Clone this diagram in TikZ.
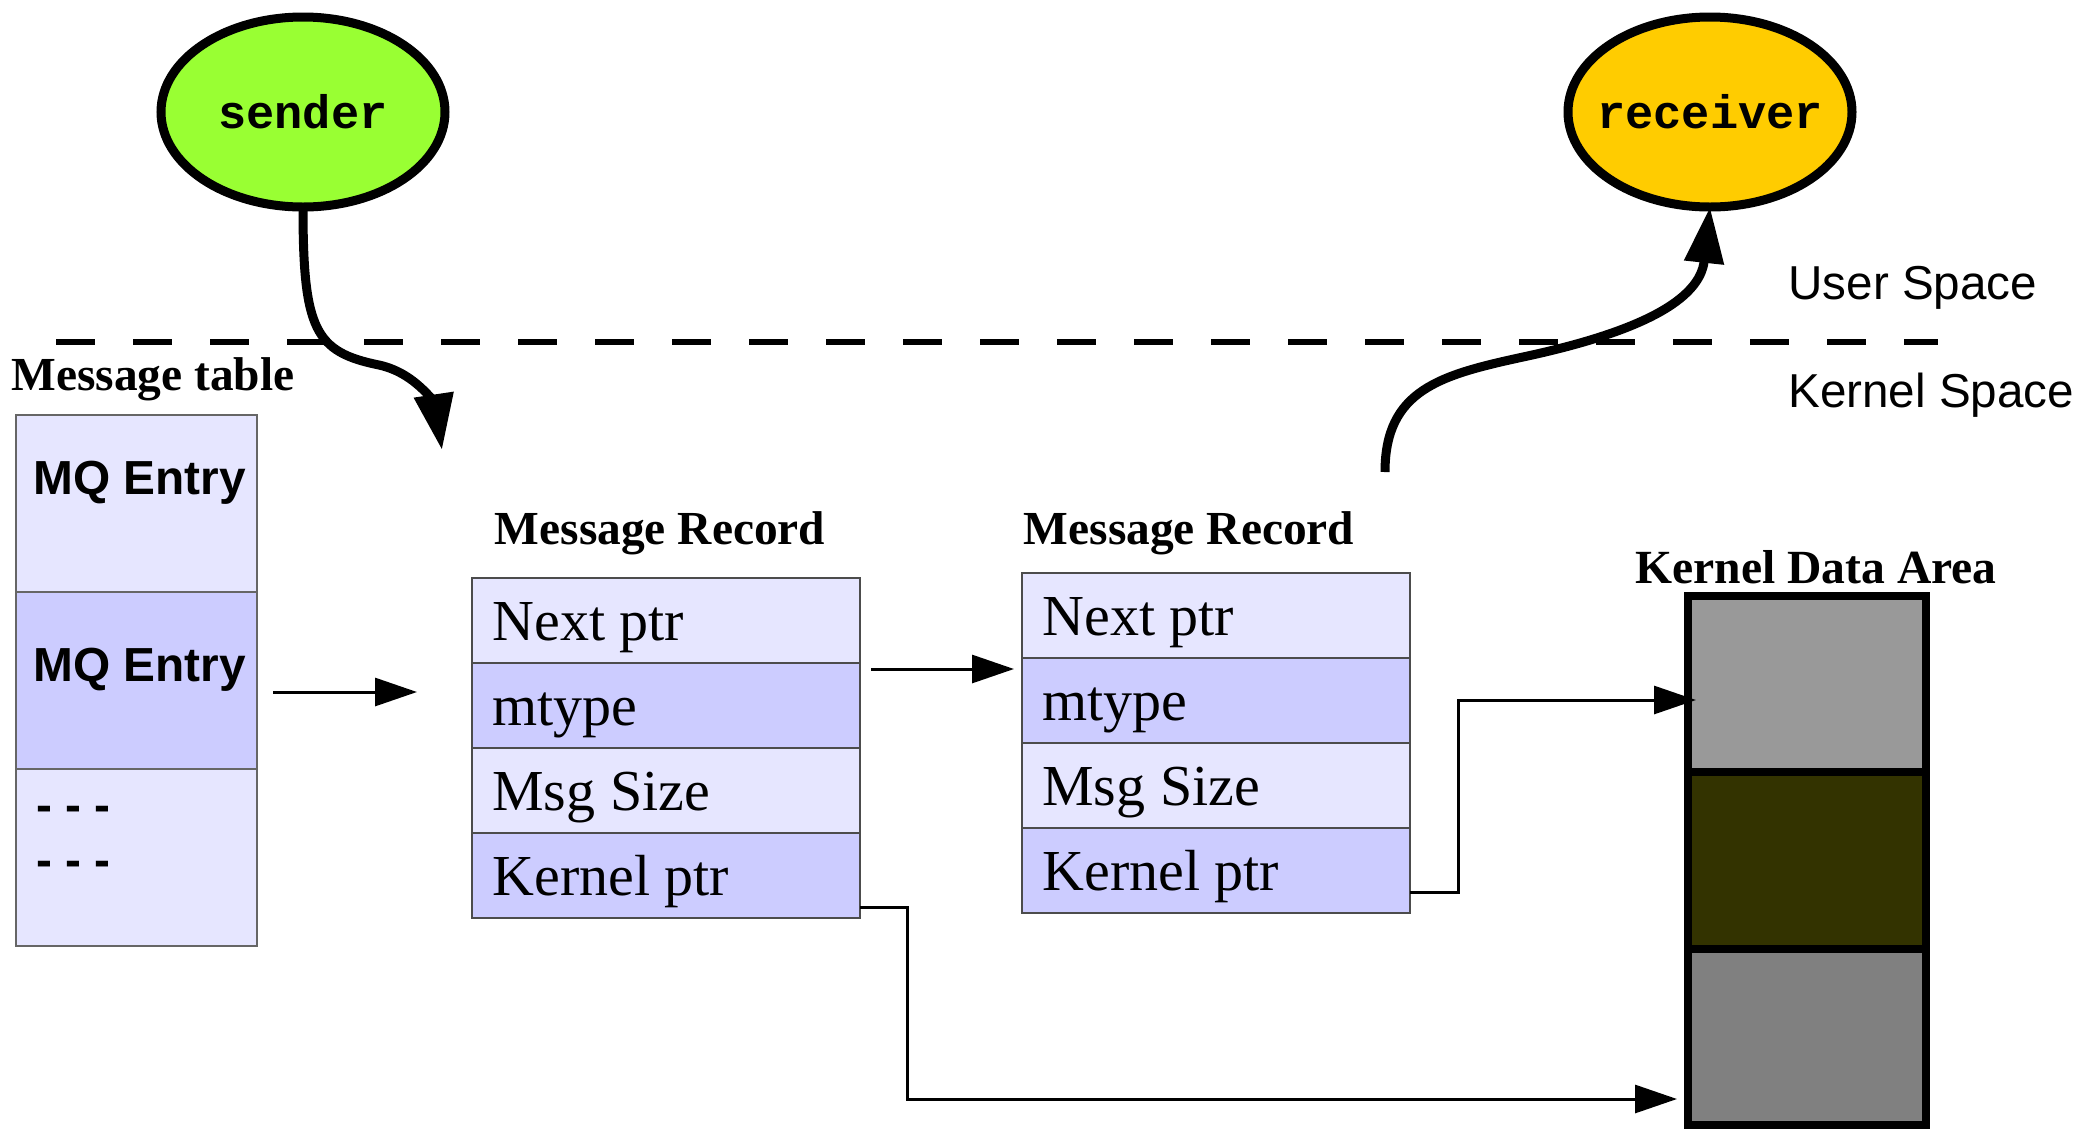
\documentclass[tikz,border=0pt]{standalone}
\usepackage{fontspec}
\setmainfont{Liberation Serif}
\setsansfont{Liberation Sans}
\setmonofont{Liberation Mono}
\usetikzlibrary{arrows.meta,calc,shapes.geometric}
\definecolor{sendgreen}{HTML}{99FF33}
\definecolor{recvyellow}{HTML}{FFCC00}
\definecolor{lavlight}{HTML}{E6E6FF}
\definecolor{lavdark}{HTML}{CCCCFF}
\definecolor{kgrayA}{HTML}{999999}
\definecolor{kolive}{HTML}{333300}
\definecolor{kgrayB}{HTML}{808080}
\begin{document}
\begin{tikzpicture}[x=0.5pt,y=-0.5pt,
  proc/.style={ellipse, draw=black, line width=4.5pt, minimum width=142pt, minimum height=95pt, inner sep=0pt, outer sep=0pt},
  proctext/.style={font=\ttfamily\bfseries\fontsize{23.5}{28}\selectfont, inner sep=0pt},
  title/.style={font=\bfseries\fontsize{23.7}{28}\selectfont, inner sep=0pt},
  spacelabel/.style={font=\sffamily\fontsize{23.8}{28}\selectfont, inner sep=0pt, anchor=west},
  mqcell/.style={draw=black!60, line width=0.6pt, minimum width=120.5pt, minimum height=88.5pt, anchor=north west, inner sep=0pt, outer sep=0pt},
  mqtext/.style={font=\sffamily\bfseries\fontsize{23.9}{28}\selectfont, inner sep=0pt, anchor=base west},
  recrow/.style={draw=black!70, line width=0.6pt, minimum width=194pt, minimum height=42.5pt,
    inner sep=0pt, outer sep=0pt, anchor=north west},
  rowtext/.style={font=\fontsize{29}{34}\selectfont, inner sep=0pt, anchor=base west},
  kcell/.style={draw=black, line width=4pt, minimum width=119pt, minimum height=88.2pt, anchor=north west, inner sep=0pt, outer sep=0pt},
  thinarrow/.style={line width=1.5pt, -{Triangle[length=21pt,width=14pt]}},
  thickarrow/.style={line width=4.5pt, -{Triangle[length=28pt,width=19pt]}},
  boundary/.style={line width=3.4pt, dash pattern=on 19.25pt off 19.25pt}
]
\useasboundingbox (0,0) rectangle (2078,1136);

% user / kernel boundary
\draw[boundary] (56,342) -- (1938,342);
\node[spacelabel] (userspace) at (1788,288) {User Space};
\node[spacelabel] (kernelspace) at (1788,395) {Kernel Space};

% processes
\node[proc, fill=sendgreen] (sender) at (303,112) {};
\node[proctext] (sendertext) at (sender.center) {sender};
\node[proc, fill=recvyellow] (receiver) at (1710,112) {};
\node[proctext] (receivertext) at (receiver.center) {receiver};

% message table
\node[title] (mqtitle) at (153,379) {Message table};
\node[mqcell, fill=lavlight] (mq1) at (16,415) {};
\node[mqcell, fill=lavdark] (mq2) at (16,592) {};
\node[mqcell, fill=lavlight] (mq3) at (16,769) {};
\node[mqtext] (mq1t) at ($(mq1.north west)+(17,79)$) {MQ Entry};
\node[mqtext] (mq2t) at ($(mq2.north west)+(17,89)$) {MQ Entry};
\node[mqtext] (mq3a) at ($(mq3.north west)+(20,52)$) {- - -};
\node[mqtext] (mq3b) at ($(mq3.north west)+(20,107)$) {- - -};

% message record 1
\node[title] (rec1title) at (660,533) {Message Record};
\node[recrow, fill=lavlight] (r1a) at (472,578) {};
\node[recrow, fill=lavdark] (r1b) at (472,663) {};
\node[recrow, fill=lavlight] (r1c) at (472,748) {};
\node[recrow, fill=lavdark] (r1d) at (472,833) {};
\node[rowtext] (r1at) at ($(r1a.north west)+(20,62)$) {Next ptr};
\node[rowtext] (r1bt) at ($(r1b.north west)+(20,62)$) {mtype};
\node[rowtext] (r1ct) at ($(r1c.north west)+(20,62)$) {Msg Size};
\node[rowtext] (r1dt) at ($(r1d.north west)+(20,62)$) {Kernel ptr};

% message record 2
\node[title] (rec2title) at (1189,533) {Message Record};
\node[recrow, fill=lavlight] (r2a) at (1022,573) {};
\node[recrow, fill=lavdark] (r2b) at (1022,658) {};
\node[recrow, fill=lavlight] (r2c) at (1022,743) {};
\node[recrow, fill=lavdark] (r2d) at (1022,828) {};
\node[rowtext] (r2at) at ($(r2a.north west)+(20,62)$) {Next ptr};
\node[rowtext] (r2bt) at ($(r2b.north west)+(20,62)$) {mtype};
\node[rowtext] (r2ct) at ($(r2c.north west)+(20,62)$) {Msg Size};
\node[rowtext] (r2dt) at ($(r2d.north west)+(20,62)$) {Kernel ptr};

% kernel data area
\node[title, font=\bfseries\fontsize{23.8}{28}\selectfont] (kdtitle) at (1816,567) {Kernel Data Area};
\node[kcell, fill=kgrayA] (k1) at (1688,596) {};
\node[kcell, fill=kolive] (k2) at (1688,772.3) {};
\node[kcell, fill=kgrayB] (k3) at (1688,948.7) {};

% connector end points
\coordinate (mqfrom) at (273,692);
\coordinate (mqto) at (417,692);
\coordinate (recfrom) at (871,669);
\coordinate (recto) at (1014,669);
\coordinate (r2from) at (1410,892);
\coordinate (k1tip) at (1696,700);
\coordinate (r1from) at (860,907);
\coordinate (k3tip) at (1677,1099);
\coordinate (sendtip) at (442,450);
\coordinate (recvstart) at (1385,472);

% connectors
\draw[thinarrow] (mqfrom) -- (mqto);
\draw[thinarrow] (recfrom) -- (recto);
\draw[thinarrow] (r2from) -- ++(48,0) |- (k1tip);
\draw[thinarrow] (r1from) -- ++(47,0) |- (k3tip);

\draw[thickarrow] (sender.south) .. controls (303,330) and (315,352) .. (379,365)
   .. controls (420,374) and (436,410) .. (sendtip);
\draw[thickarrow] (recvstart) .. controls (1385,390) and (1440,375) .. (1523,357)
   .. controls (1640,332) and (1700,300) .. (receiver.south);
\end{tikzpicture}
\end{document}
